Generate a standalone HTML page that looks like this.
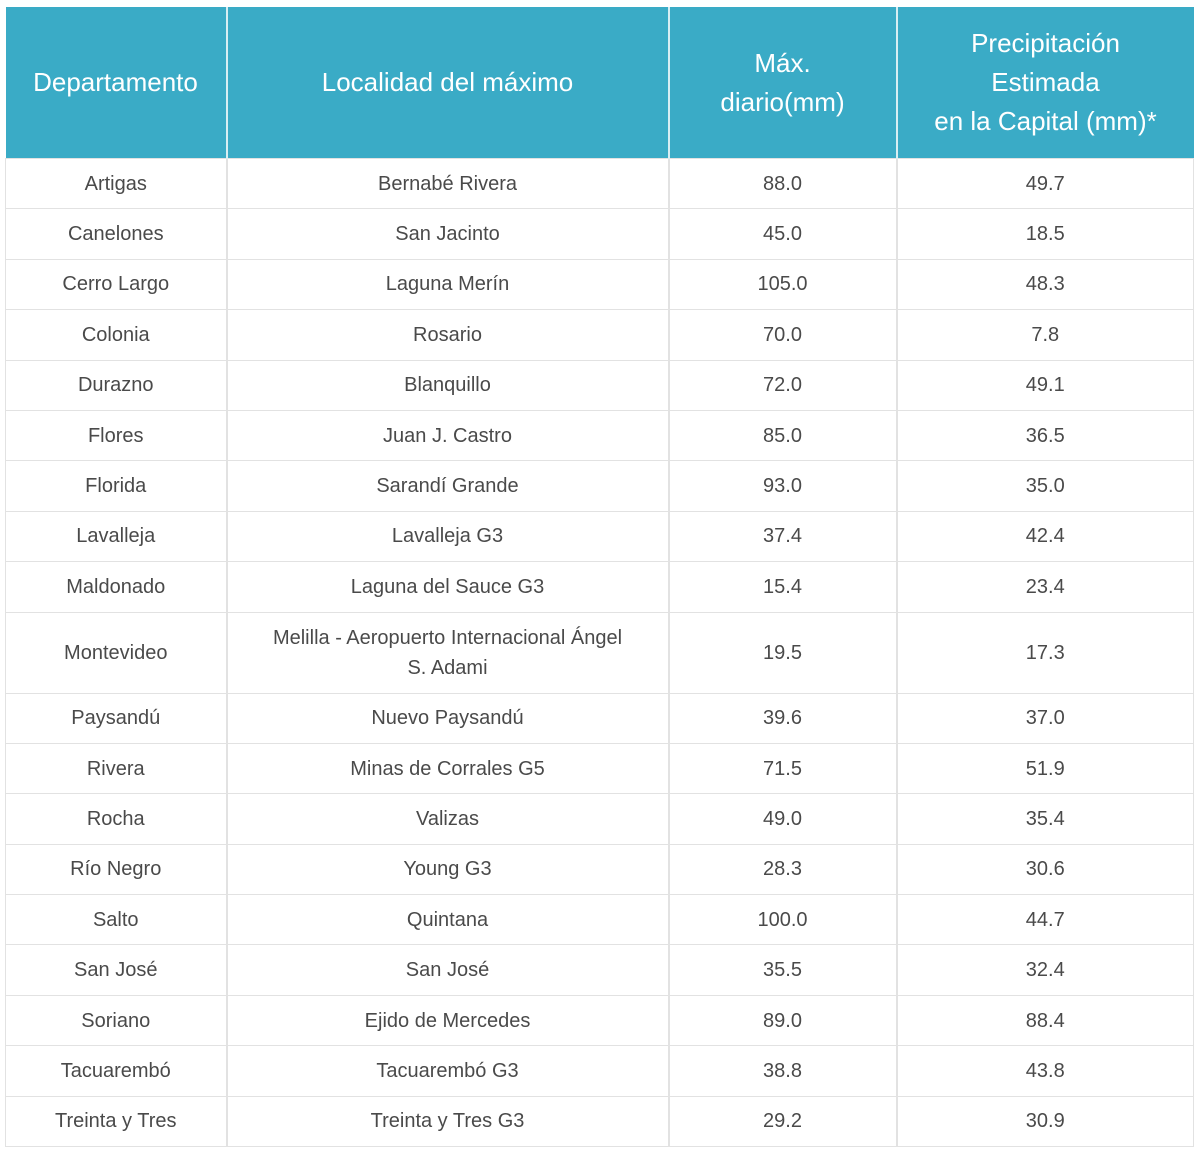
<!DOCTYPE html>
<html><head><meta charset="utf-8"><style>
body{margin:0;background:#fff;width:1200px;height:1157px;overflow:hidden}
table{position:absolute;left:5px;top:7px;border-collapse:collapse;table-layout:fixed;font-family:"Liberation Sans",sans-serif}
th{background:#3aabc6;color:#fff;font-weight:normal;font-size:26px;line-height:39px;height:151px;padding:0;border-right:2px solid #d8eef3;text-align:center}
th:last-child{border-right:none}
td{font-size:20px;color:#4a4a4a;text-align:center;padding:0 8px;border:1px solid #e2e2e2;border-right:2px solid #e2e2e2;height:49.4px;line-height:30px}
td:last-child{border-right:1px solid #e2e2e2}
tr.tall td{height:80px}
td.wrap{padding:0 18px}
</style></head><body>
<table>
<colgroup><col style="width:221px"><col style="width:442px"><col style="width:228px"><col style="width:297px"></colgroup>
<tr><th>Departamento</th><th>Localidad del máximo</th><th>Máx.<br>diario(mm)</th><th>Precipitación<br>Estimada<br>en la Capital (mm)*</th></tr>
<tr><td>Artigas</td><td>Bernabé Rivera</td><td>88.0</td><td>49.7</td></tr>
<tr><td>Canelones</td><td>San Jacinto</td><td>45.0</td><td>18.5</td></tr>
<tr><td>Cerro Largo</td><td>Laguna Merín</td><td>105.0</td><td>48.3</td></tr>
<tr><td>Colonia</td><td>Rosario</td><td>70.0</td><td>7.8</td></tr>
<tr><td>Durazno</td><td>Blanquillo</td><td>72.0</td><td>49.1</td></tr>
<tr><td>Flores</td><td>Juan J. Castro</td><td>85.0</td><td>36.5</td></tr>
<tr><td>Florida</td><td>Sarandí Grande</td><td>93.0</td><td>35.0</td></tr>
<tr><td>Lavalleja</td><td>Lavalleja G3</td><td>37.4</td><td>42.4</td></tr>
<tr><td>Maldonado</td><td>Laguna del Sauce G3</td><td>15.4</td><td>23.4</td></tr>
<tr class="tall"><td>Montevideo</td><td class="wrap">Melilla - Aeropuerto Internacional Ángel<br>S. Adami</td><td>19.5</td><td>17.3</td></tr>
<tr><td>Paysandú</td><td>Nuevo Paysandú</td><td>39.6</td><td>37.0</td></tr>
<tr><td>Rivera</td><td>Minas de Corrales G5</td><td>71.5</td><td>51.9</td></tr>
<tr><td>Rocha</td><td>Valizas</td><td>49.0</td><td>35.4</td></tr>
<tr><td>Río Negro</td><td>Young G3</td><td>28.3</td><td>30.6</td></tr>
<tr><td>Salto</td><td>Quintana</td><td>100.0</td><td>44.7</td></tr>
<tr><td>San José</td><td>San José</td><td>35.5</td><td>32.4</td></tr>
<tr><td>Soriano</td><td>Ejido de Mercedes</td><td>89.0</td><td>88.4</td></tr>
<tr><td>Tacuarembó</td><td>Tacuarembó G3</td><td>38.8</td><td>43.8</td></tr>
<tr><td>Treinta y Tres</td><td>Treinta y Tres G3</td><td>29.2</td><td>30.9</td></tr>
</table>
</body></html>
